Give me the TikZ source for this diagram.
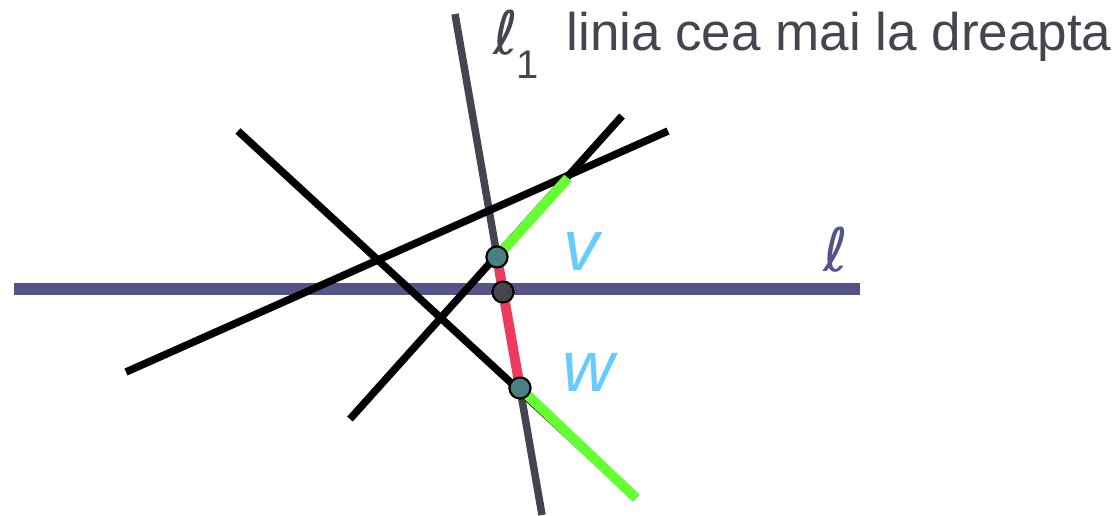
\documentclass[tikz,border=0pt]{standalone}
\usepackage{fontspec}
\setmainfont{Liberation Sans}
\newfontfamily\ellfont{DejaVu Sans}
\definecolor{lblue}{HTML}{545488}
\definecolor{lgray}{HTML}{45454F}
\definecolor{segred}{HTML}{EE3A5E}
\definecolor{seggreen}{HTML}{66FF33}
\definecolor{ptteal}{HTML}{4A8080}
\definecolor{labblue}{HTML}{66CCFF}
\tikzset{
  blackline/.style={line width=7.5pt,black},
  hitline/.style={line width=10pt},
  pt/.style={circle,draw=black,line width=2pt,fill=ptteal,minimum size=21pt,inner sep=0pt},
  lab/.style={text=labblue,font=\fontsize{72}{72}\selectfont\itshape}
}
\begin{document}
\begin{tikzpicture}[x=1pt,y=-1pt]
  \useasboundingbox (0,0) rectangle (1119,515);
  % endpoints of the lines
  \coordinate (l0) at (14,289);   \coordinate (l9) at (860,289);
  \coordinate (m0) at (455,14);   \coordinate (m9) at (542,515);
  \coordinate (a0) at (238,131);  \coordinate (a9) at (636,498);
  \coordinate (b0) at (126,372);  \coordinate (b9) at (668,131);
  \coordinate (c0) at (350,419);  \coordinate (c9) at (622,116);
  \coordinate (cb) at (568,178);
  \draw[line width=7.5pt,lgray] (m0) -- (m9);
  \draw[line width=12pt,lblue] (l0) -- (l9);
  \foreach \p/\q in {a0/a9,b0/b9,c0/c9}{
    \draw[blackline] (\p) -- (\q);
  }
  \node[pt] (v) at (497,257) {};
  \node[pt,fill=lgray] (x) at (503,292) {};
  \node[pt] (w) at (520,388) {};
  \draw[hitline,seggreen] (v.center) -- (cb);
  \draw[hitline,seggreen] (w.center) -- (a9);
  \draw[hitline,segred] (v.center) -- (w.center);
  \node[pt] at (v) {};
  \node[pt,fill=lgray] at (x) {};
  \node[pt] at (w) {};
  % labels
  \node[lab] (vl) at (581,251) {v};
  \node[lab] (wl) at (588,372) {w};
  \node[text=lblue,font=\fontsize{60}{60}\selectfont\ellfont\itshape] (ll) at (836,250) {ℓ};
  \node[text=lgray,font=\fontsize{60}{60}\selectfont] (l1) at (516,44)
    {{\ellfont\itshape ℓ}\kern-2pt\raisebox{-0.4em}{\fontsize{40}{40}\selectfont 1}};
  \node[text=lgray,font=\fontsize{53}{53}\selectfont,anchor=west] (title) at (563,37)
    {linia cea mai la dreapta};
\end{tikzpicture}
\end{document}
